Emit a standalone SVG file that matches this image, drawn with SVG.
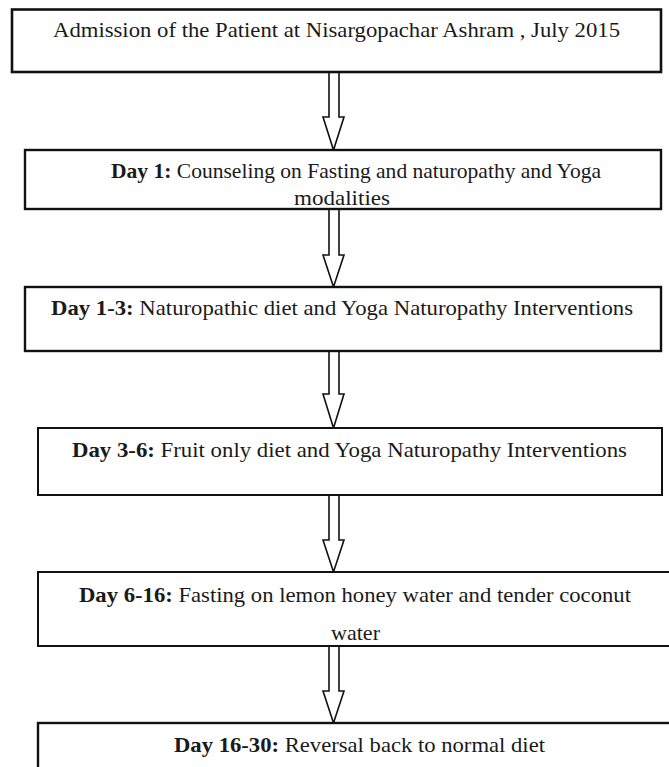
<svg xmlns="http://www.w3.org/2000/svg" width="669" height="767" viewBox="0 0 669 767">
<style>
.box{fill:#fff;stroke:#111;stroke-width:2}
.t{font-family:'Liberation Serif','Times New Roman','DejaVu Serif',serif;font-size:21px;fill:#1a1a1a}
.b{font-weight:bold}
.arr{fill:#fff;stroke:#111;stroke-width:1.6;stroke-linejoin:miter}
</style>
<rect width="669" height="767" fill="#fff"/>
<g id="connectors">
<polygon class="arr" points="329,72 339,72 339,117 344,117 333.5,150 323,117 329,117"/>
<polygon class="arr" points="329,209 339,209 339,255 344,255 333.5,287 323,255 329,255"/>
<polygon class="arr" points="329,351 339,351 339,394 344,394 333.5,428 323,394 329,394"/>
<polygon class="arr" points="329,495 339,495 339,540 344,540 333.5,572 323,540 329,540"/>
<polygon class="arr" points="329,646 339,646 339,691 344,691 333.5,723 323,691 329,691"/>
</g>
<g id="node1">
<rect class="box" x="12" y="9.5" width="649" height="62.5" style="stroke-width:2.6"/>
<text class="t" font-family="Liberation Serif, serif" x="53" y="37" textLength="567" lengthAdjust="spacingAndGlyphs">Admission of the Patient at Nisargopachar Ashram , July 2015</text>
</g>
<g id="node2">
<rect class="box" x="25" y="150" width="636" height="59" style="stroke-width:2.4"/>
<text class="t" x="111" y="178" textLength="490" lengthAdjust="spacingAndGlyphs"><tspan class="b">Day 1:</tspan> Counseling on Fasting and naturopathy and Yoga</text>
<text class="t" x="294" y="205" textLength="96" lengthAdjust="spacingAndGlyphs">modalities</text>
</g>
<g id="node3">
<rect class="box" x="25" y="287" width="636" height="64" style="stroke-width:2.4"/>
<text class="t" x="51" y="315" textLength="582" lengthAdjust="spacingAndGlyphs"><tspan class="b">Day 1-3:</tspan> Naturopathic diet and Yoga Naturopathy Interventions</text>
</g>
<g id="node4">
<rect class="box" x="38" y="428" width="624" height="67"/>
<text class="t" x="72" y="457" textLength="555" lengthAdjust="spacingAndGlyphs"><tspan class="b">Day 3-6:</tspan> Fruit only diet and Yoga Naturopathy Interventions</text>
</g>
<g id="node5">
<rect class="box" x="38" y="572" width="640" height="74"/>
<text class="t" x="79" y="602" textLength="552" lengthAdjust="spacingAndGlyphs"><tspan class="b">Day 6-16:</tspan> Fasting on lemon honey water and tender coconut</text>
<text class="t" x="331" y="640" textLength="49" lengthAdjust="spacingAndGlyphs">water</text>
</g>
<g id="node6">
<rect class="box" x="38" y="723" width="640" height="60" style="stroke-width:2.4"/>
<text class="t" x="174" y="752" textLength="371" lengthAdjust="spacingAndGlyphs"><tspan class="b">Day 16-30:</tspan> Reversal back to normal diet</text>
</g>
</svg>
